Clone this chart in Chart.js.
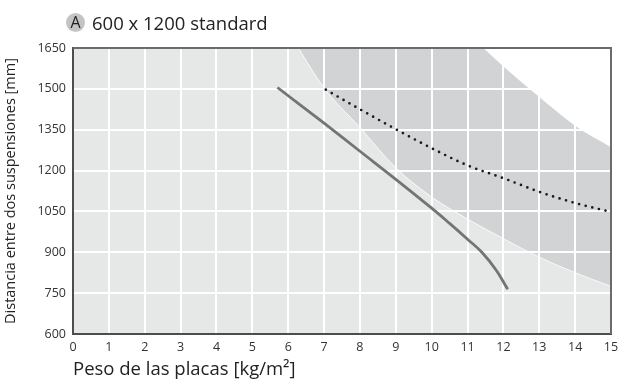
<!DOCTYPE html>
<html>
<head>
<meta charset="utf-8">
<script src="https://cdn.jsdelivr.net/npm/chart.js@4/dist/chart.umd.min.js"></script>
<style>
  html, body { margin: 0; padding: 0; background: #fff; }
  #wrap { position: relative; width: 621px; height: 383px; }
  #title { position: absolute; left: 66px; top: 10px; font-family: "Open Sans", sans-serif; font-size: 18.5px; color: #222; display: flex; align-items: center; }
  #title .badge { display: inline-block; width: 19px; height: 19px; border-radius: 50%; background: #c4c4c4; color: #222; font-size: 16px; line-height: 19px; text-align: center; margin-right: 7px; }
  canvas { position: absolute; left: 0; top: 0; }
</style>
</head>
<body>
<div id="wrap">
  <canvas id="c" width="621" height="383"></canvas>
  <div id="title"><span class="badge">A</span><span>600 x 1200 standard</span></div>
</div>
<script>
// Axis ticks
const xTicks = [0,1,2,3,4,5,6,7,8,9,10,11,12,13,14,15];
const yTicks = [600,750,900,1050,1200,1350,1500,1650];

// Solid curve
const solidX = [5.7, 7, 8, 9, 10, 10.5, 11, 11.4, 11.8, 12.12];
const solidY = [1505, 1374, 1271, 1168, 1062, 1006, 948, 900, 834, 764];

// Dotted curve
const dotX = [7.05, 8, 9, 10, 11, 12, 13, 14, 15];
const dotY = [1497, 1425, 1352, 1282, 1219, 1172, 1122, 1081, 1048];

// Lower boundary of the dark zone
const darkX = [6.28, 7, 8, 9, 10, 11, 12, 13, 14, 15];
const darkY = [1650, 1503, 1358, 1210, 1103, 1022, 950, 882, 825, 775];

// Upper boundary of the dark zone (white above)
const whiteX = [11.44, 12, 13, 14, 15];
const whiteY = [1650, 1582, 1470, 1365, 1286];

// Plot background extent
const bgX = [0, 15];
const bgY = [1650, 1650];

const pts = (xs, ys) => xs.map((x, i) => ({x, y: ys[i]}));

const framePlugin = {
  id: 'frame',
  afterDraw(chart) {
    const {ctx, chartArea: a} = chart;
    ctx.save();
    ctx.strokeStyle = '#6b6b6b';
    ctx.lineWidth = 2;
    ctx.beginPath();
    ctx.moveTo(a.left, a.top);
    ctx.lineTo(a.right, a.top);
    ctx.lineTo(a.right, a.bottom);
    ctx.stroke();
    ctx.restore();
  }
};

new Chart(document.getElementById('c'), {
  type: 'line',
  data: {
    datasets: [
      { data: pts(solidX, solidY), borderColor: '#747474', borderWidth: 2.8, pointRadius: 0, fill: false, tension: 0.4 },
      { data: pts(dotX, dotY), borderColor: '#1c1c1c', borderWidth: 2.7, borderDash: [0, 6.8], borderCapStyle: 'round', pointRadius: 0, fill: false, cubicInterpolationMode: 'monotone' },
      { data: pts(whiteX, whiteY), borderWidth: 0, borderColor: 'rgba(0,0,0,0)', backgroundColor: '#ffffff', pointRadius: 0, fill: 'end', cubicInterpolationMode: 'monotone' },
      { data: pts(darkX, darkY), borderWidth: 1, borderColor: 'rgba(255,255,255,0.85)', backgroundColor: '#d2d3d5', pointRadius: 0, fill: 'end', cubicInterpolationMode: 'monotone' },
      { data: pts(bgX, bgY), borderWidth: 0, borderColor: 'rgba(0,0,0,0)', backgroundColor: '#e6e7e7', pointRadius: 0, fill: 'start' }
    ]
  },
  options: {
    responsive: false,
    animation: false,
    events: [],
    layout: { padding: { top: 48, right: 10, left: 0, bottom: 0 } },
    plugins: {
      legend: { display: false },
      tooltip: { enabled: false },
      filler: { drawTime: 'beforeDraw' }
    },
    scales: {
      x: {
        type: 'linear', min: 0, max: 15,
        afterBuildTicks: s => { s.ticks = xTicks.map(v => ({value: v})); },
        afterFit: s => { s.height = 49; s.paddingLeft = 0; s.paddingRight = 0; },
        grid: { color: '#ffffff', lineWidth: 2, drawTicks: false },
        border: { display: true, color: '#4d4d4d', width: 2 },
        ticks: { color: '#333', font: { family: 'Open Sans', size: 12.5 }, padding: 6, maxRotation: 0, autoSkip: false, callback: v => String(v) },
        title: { display: true, text: 'Peso de las placas [kg/m²]', align: 'start', color: '#222', font: { family: 'Open Sans', size: 18.5 }, padding: { top: 2, bottom: 2 } }
      },
      y: {
        type: 'linear', min: 600, max: 1650,
        afterBuildTicks: s => { s.ticks = yTicks.map(v => ({value: v})); },
        afterFit: s => { s.width = 73; s.paddingTop = 0; s.paddingBottom = 0; },
        grid: { color: '#ffffff', lineWidth: 2, drawTicks: false },
        border: { display: true, color: '#4d4d4d', width: 2 },
        ticks: { color: '#333', font: { family: 'Open Sans', size: 12.5 }, padding: 7, callback: v => String(v) },
        title: { display: true, text: 'Distancia entre dos suspensiones [mm]', color: '#222', font: { family: 'Open Sans', size: 14.5 }, padding: { top: 2, bottom: 2 } }
      }
    }
  },
  plugins: [framePlugin]
});
</script>
</body>
</html>
